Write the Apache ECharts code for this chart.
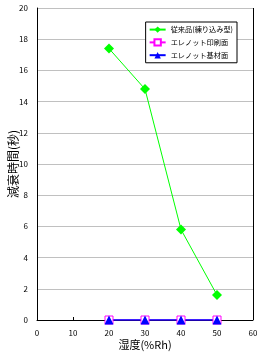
<!DOCTYPE html>
<html>
<head>
<meta charset="utf-8">
<script src="https://cdn.jsdelivr.net/npm/echarts@6/dist/echarts.min.js"></script>
<style>
  html, body { margin: 0; padding: 0; background: #fff; }
  #chart { width: 266px; height: 354px; }
</style>
</head>
<body>
<div id="chart"></div>
<script>
// humidity (%Rh)
const humidity = [20, 30, 40, 50]
const seriesNames = ['従来品(練り込み型)', 'エレノット印刷面', 'エレノット基材面']
const conventional = [17.4, 14.8, 5.8, 1.6]
const printSide = [0, 0, 0, 0]
const baseSide = [0, 0, 0, 0]

const font = '"Noto Sans CJK JP", "DejaVu Sans", sans-serif'

function pairs(vals) {
  return humidity.map((h, i) => [h, vals[i]])
}

const chart = echarts.init(document.getElementById('chart'))
chart.setOption({
  animation: false,
  grid: { left: 37, right: 13, top: 8, bottom: 34, outerBoundsMode: 'none', containLabel: false },
  legend: {
    orient: 'vertical',
    right: 29,
    top: 22,
    backgroundColor: '#fff',
    borderColor: '#000',
    borderWidth: 1,
    borderRadius: 0,
    padding: [4, 4, 4, 3],
    itemGap: 5,
    itemWidth: 16,
    itemHeight: 8,
    textStyle: { fontFamily: font, fontSize: 7.2, color: '#000' },
    data: seriesNames
  },
  xAxis: {
    type: 'value',
    min: 0,
    max: 60,
    interval: 10,
    name: '湿度(%Rh)',
    nameLocation: 'middle',
    nameGap: 19,
    nameMoveOverlap: false,
    nameTextStyle: { fontFamily: font, fontSize: 11, color: '#000' },
    axisLine: { show: true, lineStyle: { color: '#000' } },
    axisTick: { show: true, inside: true, length: 3, lineStyle: { color: '#000' } },
    axisLabel: { fontFamily: font, fontSize: 8, color: '#000', margin: 9 },
    splitLine: { show: false }
  },
  yAxis: {
    type: 'value',
    min: 0,
    max: 20,
    interval: 2,
    name: '減衰時間(秒)',
    nameLocation: 'middle',
    nameGap: 18,
    nameRotate: 90,
    nameMoveOverlap: false,
    nameTextStyle: { fontFamily: font, fontSize: 12, color: '#000' },
    axisLine: { show: true, lineStyle: { color: '#000' } },
    axisTick: { show: false },
    axisLabel: { fontFamily: font, fontSize: 8, color: '#000', margin: 9 },
    splitLine: { show: true, lineStyle: { color: '#c0c0c0' } }
  },
  series: [
    {
      name: seriesNames[0],
      type: 'line',
      data: pairs(conventional),
      symbol: 'diamond',
      symbolSize: 10,
      itemStyle: { color: '#00ff00' },
      lineStyle: { color: '#00ff00', width: 1 }
    },
    {
      name: seriesNames[1],
      type: 'line',
      data: pairs(printSide),
      symbol: 'rect',
      symbolSize: 8,
      itemStyle: { color: '#fff', borderColor: '#ff00ff', borderWidth: 1 },
      lineStyle: { color: '#ff00ff', width: 1 }
    },
    {
      name: seriesNames[2],
      type: 'line',
      data: pairs(baseSide),
      symbol: 'triangle',
      symbolSize: 9,
      itemStyle: { color: '#0000ff' },
      lineStyle: { color: '#0000ff', width: 1.5 }
    }
  ],
  graphic: [
    // top and right frame of the plot area
    { type: 'line', shape: { x1: 37, y1: 8.5, x2: 253.5, y2: 8.5 }, style: { stroke: '#000', lineWidth: 1 } },
    { type: 'line', shape: { x1: 253.5, y1: 8, x2: 253.5, y2: 320 }, style: { stroke: '#000', lineWidth: 1 } }
  ]
})
</script>
</body>
</html>
